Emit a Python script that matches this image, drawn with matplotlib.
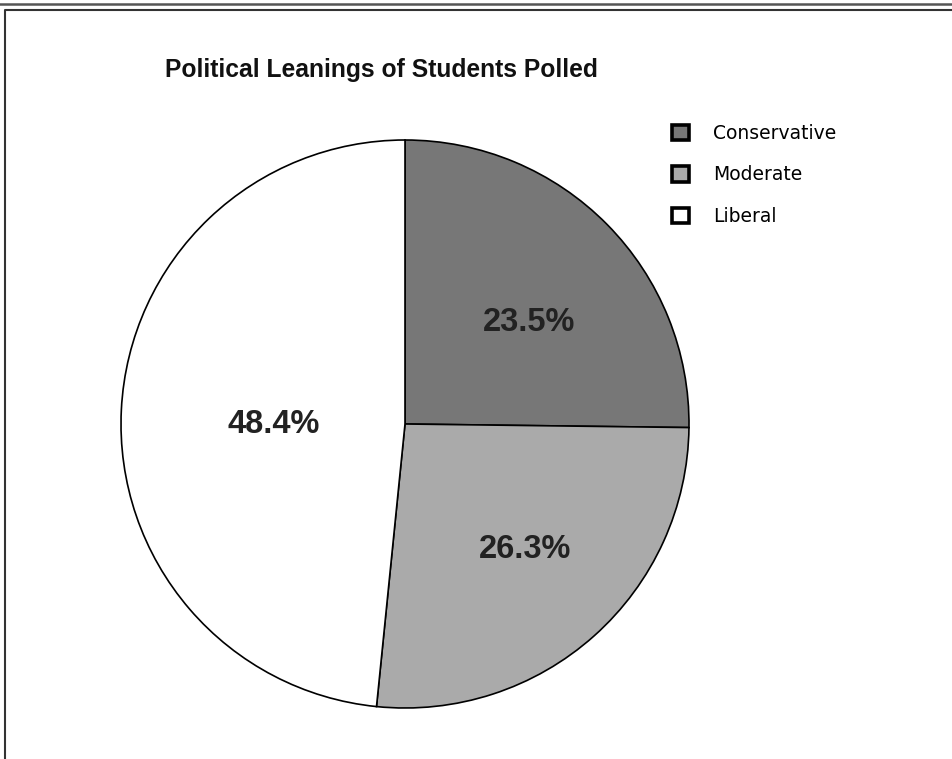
import numpy as np
import matplotlib
matplotlib.use('Agg')
import matplotlib.pyplot as plt
from matplotlib.patches import Patch
from matplotlib.lines import Line2D

# data
categories = ['Conservative', 'Moderate', 'Liberal']
wedge_share = [25.2, 26.4, 48.4]          # share of circle as drawn
pct_labels = ['23.5%', '26.3%', '48.4%']  # labels printed on slices
colors = ['#777777', '#aaaaaa', '#ffffff']
label_radius = [0.565, 0.611, 0.463]
label_shift = [-5.2, 1.8, 2.9]   # deg, counterclockwise from wedge middle

W, H = 953, 759
fig = plt.figure(figsize=(W / 100, H / 100), dpi=100)
fig.patch.set_facecolor('white')

# pie axes: centre (405, 424) px, radius 284 px
cx, cy, r = 405, 424, 284
ax = fig.add_axes([(cx - r) / W, (H - cy - r) / H, 2 * r / W, 2 * r / H])
wedges, _ = ax.pie(wedge_share, colors=colors, startangle=90, counterclock=False,
                   radius=1.0,
                   wedgeprops=dict(edgecolor='black', linewidth=1.2))
ax.set_xlim(-1, 1)
ax.set_ylim(-1, 1)
ax.axis('off')

for w, txt, rr, sh in zip(wedges, pct_labels, label_radius, label_shift):
    ang = np.deg2rad((w.theta1 + w.theta2) / 2 + sh)
    ax.text(rr * np.cos(ang), rr * np.sin(ang), txt, ha='center', va='center',
            fontsize=23.5, fontweight='bold', family='Liberation Sans', color='#222222')

fig.text(165 / W, 1 - 70 / H, 'Political Leanings of Students Polled', ha='left', va='center',
         fontsize=17.75, fontweight='bold', family='Liberation Sans', color='#111111')

handles = [Patch(facecolor=c, edgecolor='black', linewidth=2.6) for c in colors]
fig.legend(handles, categories, loc='upper left', bbox_to_anchor=(672 / W, 1 - 124 / H),
           frameon=False, prop={'family': 'DejaVu Sans', 'size': 13.5},
           handlelength=0.9, handleheight=0.9, handletextpad=1.3, labelspacing=1.2,
           borderpad=0, borderaxespad=0)

# border lines
fig.add_artist(Line2D([0, 1], [1 - 3.5 / H, 1 - 3.5 / H], color='#555555', linewidth=1.8,
                      transform=fig.transFigure))
fig.add_artist(Line2D([4.5 / W, 4.5 / W, 1], [0, 1 - 10 / H, 1 - 10 / H], color='#333333',
                      linewidth=1.5, transform=fig.transFigure))

fig.savefig('out.png', dpi=100)
